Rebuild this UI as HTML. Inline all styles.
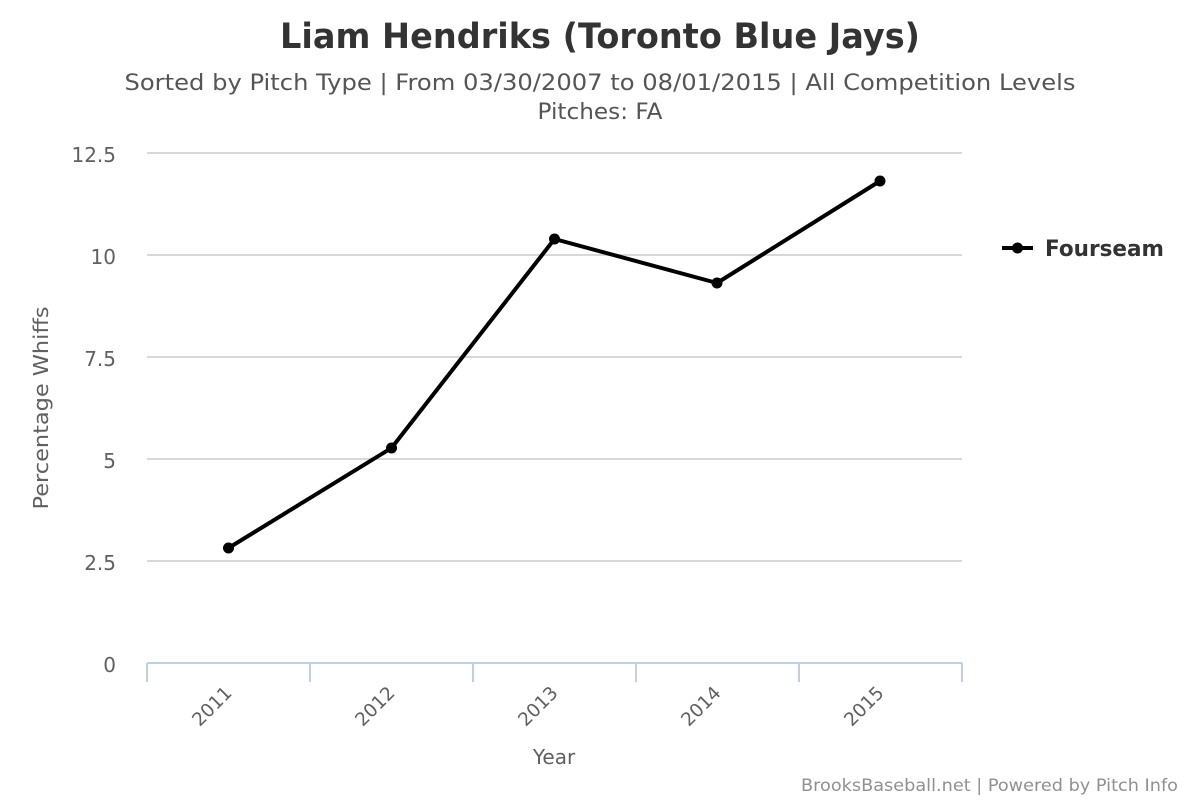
<!DOCTYPE html>
<html>
<head>
<meta charset="utf-8">
<style>
html,body{margin:0;padding:0;background:#fff;}
svg{display:block;}
text{font-family:"DejaVu Sans","Liberation Sans",sans-serif;}
</style>
</head>
<body>
<svg width="1200" height="800" viewBox="0 0 1200 800" xmlns="http://www.w3.org/2000/svg">
<rect width="1200" height="800" fill="#fff"/>
<!-- Title -->
<text x="600" y="48" text-anchor="middle" font-size="35" font-weight="bold" fill="#333333" textLength="640" lengthAdjust="spacingAndGlyphs">Liam Hendriks (Toronto Blue Jays)</text>
<text x="600" y="90" text-anchor="middle" font-size="22" fill="#555555" textLength="951" lengthAdjust="spacingAndGlyphs">Sorted by Pitch Type | From 03/30/2007 to 08/01/2015 | All Competition Levels</text>
<text x="600" y="119" text-anchor="middle" font-size="22" fill="#555555" textLength="125" lengthAdjust="spacingAndGlyphs">Pitches: FA</text>

<!-- Gridlines -->
<g stroke="#d8d8d8" stroke-width="2">
<line x1="147" y1="153" x2="962" y2="153"/>
<line x1="147" y1="255" x2="962" y2="255"/>
<line x1="147" y1="357" x2="962" y2="357"/>
<line x1="147" y1="459" x2="962" y2="459"/>
<line x1="147" y1="561" x2="962" y2="561"/>
</g>
<!-- X axis -->
<g stroke="#c0d0e0" stroke-width="2">
<line x1="147" y1="663" x2="962" y2="663"/>
<line x1="147" y1="663" x2="147" y2="682"/>
<line x1="310" y1="663" x2="310" y2="682"/>
<line x1="473" y1="663" x2="473" y2="682"/>
<line x1="636" y1="663" x2="636" y2="682"/>
<line x1="799" y1="663" x2="799" y2="682"/>
<line x1="962" y1="663" x2="962" y2="682"/>
</g>

<!-- Y labels -->
<g font-size="20" fill="#606060" text-anchor="end">
<text x="116" y="162">12.5</text>
<text x="116" y="264">10</text>
<text x="116" y="366">7.5</text>
<text x="116" y="468">5</text>
<text x="116" y="570">2.5</text>
<text x="116" y="672">0</text>
</g>
<text x="0" y="0" font-size="20" fill="#606060" text-anchor="middle" transform="translate(48,408) rotate(-90)" textLength="203" lengthAdjust="spacingAndGlyphs">Percentage Whiffs</text>

<!-- X labels -->
<g font-size="18.5" fill="#606060" text-anchor="end">
<text x="233" y="694" transform="rotate(-45 233 694)">2011</text>
<text x="396" y="694" transform="rotate(-45 396 694)">2012</text>
<text x="559" y="694" transform="rotate(-45 559 694)">2013</text>
<text x="722" y="694" transform="rotate(-45 722 694)">2014</text>
<text x="885" y="694" transform="rotate(-45 885 694)">2015</text>
</g>
<text x="554" y="764" font-size="20" fill="#606060" text-anchor="middle">Year</text>

<!-- Series -->
<polyline points="228.5,548 391.5,448 554.5,239 717,283 880,181" fill="none" stroke="#000" stroke-width="4" stroke-linejoin="round" stroke-linecap="round"/>
<g fill="#000">
<circle cx="228.5" cy="548" r="5.5"/>
<circle cx="391.5" cy="448" r="5.5"/>
<circle cx="554.5" cy="239" r="5.5"/>
<circle cx="717" cy="283" r="5.5"/>
<circle cx="880" cy="181" r="5.5"/>
</g>

<!-- Legend -->
<line x1="1002" y1="248" x2="1033" y2="248" stroke="#000" stroke-width="4"/>
<circle cx="1017.5" cy="248" r="5.5" fill="#000"/>
<text x="1045" y="256" font-size="22" font-weight="bold" fill="#333333" textLength="119" lengthAdjust="spacingAndGlyphs">Fourseam</text>

<!-- Credits -->
<text x="1178" y="791" font-size="17" fill="#909090" text-anchor="end" textLength="377" lengthAdjust="spacingAndGlyphs">BrooksBaseball.net | Powered by Pitch Info</text>
</svg>
</body>
</html>
